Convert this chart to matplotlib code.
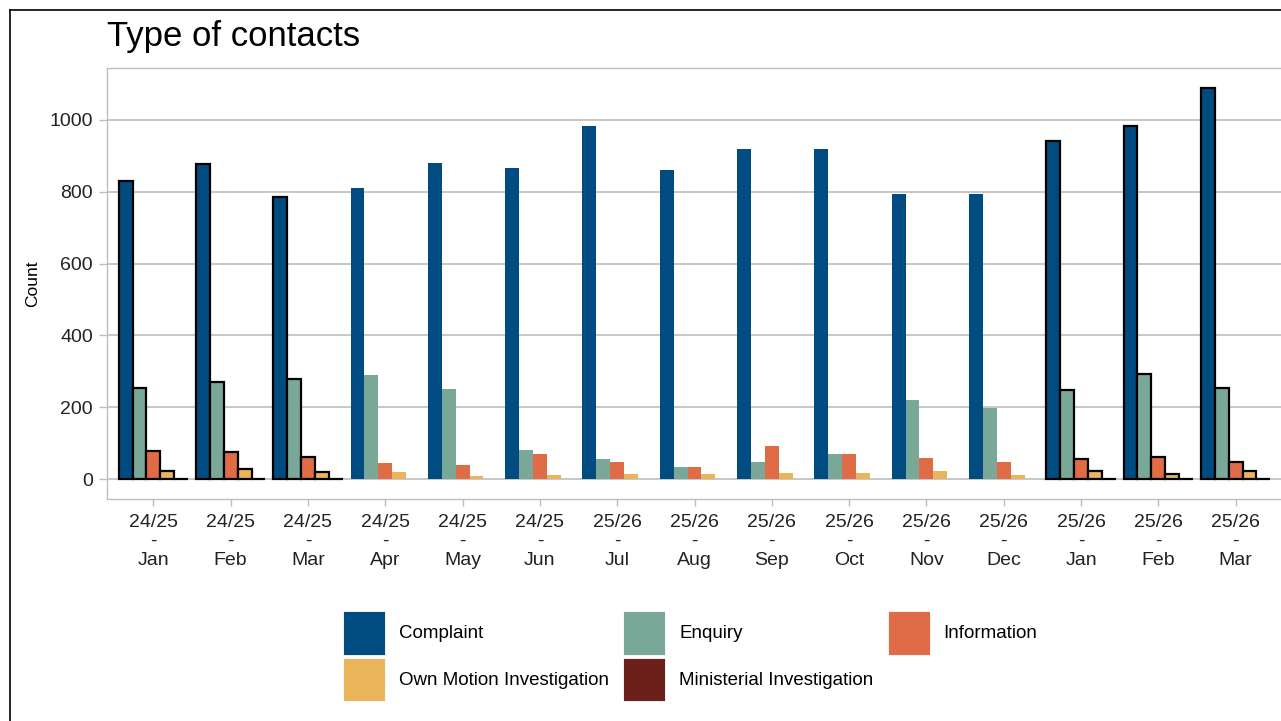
import numpy as np
import matplotlib
matplotlib.use('Agg')
import matplotlib.pyplot as plt
from matplotlib.lines import Line2D
from matplotlib.patches import Patch

plt.rcParams['font.family'] = ['Liberation Sans', 'DejaVu Sans']

# Dati
months = ['24/25\n-\nJan', '24/25\n-\nFeb', '24/25\n-\nMar', '24/25\n-\nApr', '24/25\n-\nMay',
          '24/25\n-\nJun', '25/26\n-\nJul', '25/26\n-\nAug', '25/26\n-\nSep', '25/26\n-\nOct',
          '25/26\n-\nNov', '25/26\n-\nDec', '25/26\n-\nJan', '25/26\n-\nFeb', '25/26\n-\nMar']
complaint = [830, 876, 785, 810, 879, 865, 983, 859, 917, 919, 793, 792, 940, 981, 1089]
enquiry = [254, 270, 280, 290, 252, 81, 57, 34, 47, 70, 220, 199, 249, 293, 253]
information = [78, 75, 61, 45, 39, 72, 47, 35, 92, 70, 60, 47, 58, 63, 47]
own_motion = [24, 29, 21, 21, 10, 12, 15, 15, 19, 19, 24, 12, 24, 14, 24]
ministerial = [0, 0, 0, 0, 0, 0, 0, 0, 0, 0, 0, 0, 0, 0, 0]
highlighted = [0, 1, 2, 12, 13, 14]

series = [('Complaint', complaint, '#004B7F'),
          ('Enquiry', enquiry, '#7AA898'),
          ('Information', information, '#E06B47'),
          ('Own Motion Investigation', own_motion, '#EBB45A'),
          ('Ministerial Investigation', ministerial, '#6B2019')]

W, H = 1281, 721
fig = plt.figure(figsize=(W / 100, H / 100), dpi=100)
ax = fig.add_axes([107 / W, 1 - 499 / H, (1282 - 107) / W, (499 - 68) / H])

x = np.arange(1, len(months) + 1)
bw = 0.18
for k, (name, vals, col) in enumerate(series):
    pos = x + (k - 2) * bw
    vals = np.array(vals)
    for i in range(len(x)):
        if i in highlighted:
            ax.bar(pos[i], vals[i], width=bw, color=col, edgecolor='black',
                   linewidth=1.6, zorder=3)
        else:
            ax.bar(pos[i], vals[i], width=bw, color=col, linewidth=0, zorder=3)

# Assi
top = max(complaint)
ax.set_ylim(-0.05 * top, 1.05 * top)
ax.set_xlim(0.4, 15.6)
ax.set_yticks([0, 200, 400, 600, 800, 1000])
ax.set_xticks(x)
ax.set_xticklabels(months, fontsize=14, linespacing=1.15, color='#222222')
ax.tick_params(axis='y', labelsize=14, colors='#BEBEBE', labelcolor='#222222', length=6, width=1,
               pad=4)
ax.tick_params(axis='x', colors='#BEBEBE', labelcolor='#222222', length=5, width=1, pad=6)
ax.yaxis.grid(True, color='#BEBEBE', linewidth=1.2, zorder=0)
ax.set_axisbelow(True)
for s in ax.spines.values():
    s.set_color('#BEBEBE')
    s.set_linewidth(1)
ax.set_ylabel('Count', fontsize=12.5, labelpad=7)

# Titolo
fig.text(107 / W, 1 - 46 / H, 'Type of contacts', fontsize=25, va='baseline', ha='left')

# Cornice esterna
fig.add_artist(Line2D([10 / W, 10 / W], [0, 1 - 10 / H], color='black', linewidth=1.2))
fig.add_artist(Line2D([10 / W, 1], [1 - 10 / H, 1 - 10 / H], color='black', linewidth=1.2))

# Legenda (ordine per righe)
order = [0, 3, 1, 4, 2]
handles = [Patch(facecolor=series[i][2], edgecolor='white', linewidth=0.6) for i in order]
labels = [series[i][0] for i in order]
fig.legend(handles, labels, loc='upper left', bbox_to_anchor=(343 / W, 1 - 611 / H),
           ncol=3, frameon=False, fontsize=13.5, handlelength=2.24, handleheight=3.2,
           handletextpad=0.75, columnspacing=0.75, labelspacing=0.16, borderpad=0,
           borderaxespad=0)

fig.savefig('out.png', dpi=100)
